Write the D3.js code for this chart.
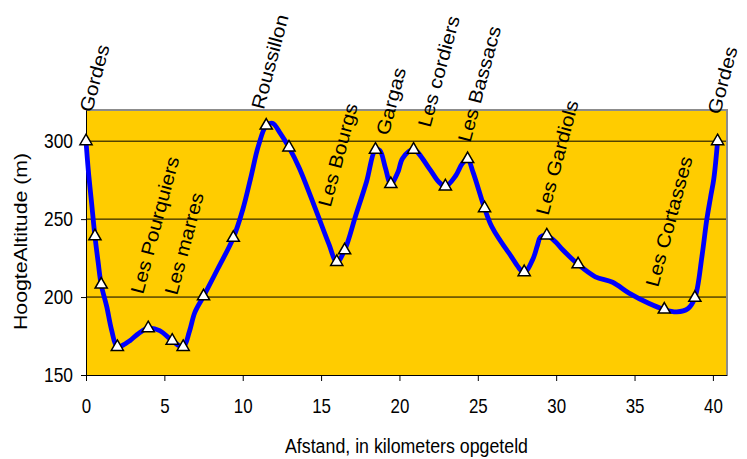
<!DOCTYPE html>
<html lang="nl">
<head>
<meta charset="utf-8">
<title>Hoogteprofiel Gordes - Roussillon</title>
<script src="https://cdnjs.cloudflare.com/ajax/libs/d3/7.8.5/d3.min.js"></script>
<style>
  body { margin: 0; background: #fff; }
  text { font-family: Arial, "Liberation Sans", sans-serif; fill: #000; }
</style>
</head>
<body>
<div id="chart"></div>
<script>
// route profile: distance (km) and altitude (m)
const profileKm = [0, 0.15, 0.36, 0.57, 0.78, 0.97, 1.32, 1.63, 2.0, 2.5, 2.8, 3.4, 3.97, 4.7, 5.5, 6.2, 6.6, 6.94, 7.5, 8.4,
  9.4, 10.0, 10.5, 11.0, 11.5, 11.9, 12.4, 12.95, 13.6, 14.7, 15.5, 16.0, 16.5, 17.2, 17.9, 18.47, 18.75, 19.1, 19.45, 19.9,
  20.2, 20.9, 21.9, 22.5, 22.93, 23.6, 24.0, 24.35, 24.7, 25.43, 25.9, 27.0, 27.96, 28.5, 28.8, 29.0, 29.4, 30.0, 30.4, 31.4,
  32.5, 33.6, 34.65, 35.9, 36.9, 37.7, 38.4, 38.85, 39.3, 39.6, 39.85, 40.06, 40.3];
const profileAlt = [300, 281, 260, 239, 222, 208, 194, 179, 168, 170, 172, 177, 180, 178.5, 172, 168, 178, 190, 200.5, 218,
  238, 256, 276, 297, 310, 311.5, 305, 296, 283, 255, 234, 222.5, 230, 252, 274, 294.5, 294, 283, 272.5, 280,
  289, 294.5, 282.5, 274, 271, 278, 285.5, 288.5, 280, 257, 245, 228, 216, 224, 233, 238.5, 239.5, 235, 230.5, 221,
  213, 209.5, 202.5, 196, 192, 190.5, 192.5, 199.5, 226, 249, 264, 276, 300];

// measured points (triangles)
const markerKm = [0, 0.57, 0.97, 2.0, 3.97, 5.5, 6.2, 7.5, 9.4, 11.5, 12.95, 16.0, 16.5, 18.47, 19.45, 20.9, 22.93, 24.35,
  25.43, 27.96, 29.4, 31.4, 36.9, 38.85, 40.3];
const markerAlt = [300, 239, 208, 168, 180, 172, 168, 200.5, 238, 310, 296, 222.5, 230, 294.5, 272.5, 294.5, 271, 288.5,
  257, 216, 239.5, 221, 192, 199.5, 300];

// place names and where their text starts
const placeNames = ["Gordes", "Les Pourquiers", "Les marres", "Roussillon", "Les Bourgs", "Gargas", "Les cordiers",
  "Les Bassacs", "Les Gardiols", "Les Cortasses", "Gordes"];
const placeKm = [0.38, 3.63, 5.8, 11.34, 15.6, 19.3, 21.97, 24.52, 29.49, 36.5, 40.45];
const placeAlt = [318, 201.3, 200.6, 319.9, 257.1, 303.2, 308.3, 298.7, 251.9, 205.8, 316.7];

const xTicks = [0, 5, 10, 15, 20, 25, 30, 35, 40];
const yTicks = [150, 200, 250, 300];
const gridValues = [200, 250, 300];

const width = 747;
const height = 459;
const plotLeft = 86, plotRight = 727, plotTop = 110, plotBottom = 375;

const svg = d3.select("#chart").append("svg")
  .attr("width", width)
  .attr("height", height);

const x = d3.scaleLinear().domain([0, 40.9]).range([plotLeft, plotRight]);
const y = d3.scaleLinear().domain([150, 320]).range([plotBottom, plotTop]);

// plot area
svg.append("rect")
  .attr("x", plotLeft).attr("y", plotTop)
  .attr("width", plotRight - plotLeft).attr("height", plotBottom - plotTop)
  .attr("fill", "#ffcc00");

// grid
svg.append("g").selectAll("line")
  .data(gridValues)
  .join("line")
  .attr("x1", plotLeft).attr("x2", plotRight)
  .attr("y1", d => y(d)).attr("y2", d => y(d))
  .attr("stroke", "#000").attr("stroke-width", 1);

// grey frame on top and right
svg.append("path")
  .attr("d", `M${plotLeft},${plotTop}H${plotRight}V${plotBottom}`)
  .attr("fill", "none")
  .attr("stroke", "#8c8c8c")
  .attr("stroke-width", 2);

// axes
const xAxis = d3.axisBottom(x).tickValues(xTicks).tickSize(6).tickSizeOuter(0).tickPadding(17);
const yAxis = d3.axisLeft(y).tickValues(yTicks).tickSize(5).tickSizeOuter(0).tickPadding(8);

const gx = svg.append("g").attr("transform", `translate(0,${plotBottom})`).call(xAxis);
gx.selectAll("text")
  .attr("font-size", 21)
  .attr("font-family", "Arial, 'Liberation Sans', sans-serif")
  .attr("textLength", d => String(d).length * 9.4)
  .attr("lengthAdjust", "spacingAndGlyphs");

const gy = svg.append("g").attr("transform", `translate(${plotLeft},0)`).call(yAxis);
gy.selectAll("text")
  .attr("font-size", 20)
  .attr("font-family", "Arial, 'Liberation Sans', sans-serif")
  .attr("textLength", 29)
  .attr("lengthAdjust", "spacingAndGlyphs");

svg.selectAll(".domain, .tick line").attr("stroke", "#000");

// profile line
const line = d3.line()
  .x(d => x(d[0]))
  .y(d => y(d[1]))
  .curve(d3.curveCatmullRom.alpha(0.5));

svg.append("path")
  .datum(d3.zip(profileKm, profileAlt))
  .attr("d", line)
  .attr("fill", "none")
  .attr("stroke", "#0000ff")
  .attr("stroke-width", 4.8)
  .attr("stroke-linejoin", "round");

// triangles
svg.append("g").selectAll("path")
  .data(d3.zip(markerKm, markerAlt))
  .join("path")
  .attr("transform", d => `translate(${x(d[0])},${y(d[1])})`)
  .attr("d", d3.symbol(d3.symbolTriangle, 64))
  .attr("fill", "#fff")
  .attr("stroke", "#000")
  .attr("stroke-width", 1.5);

// place labels
const labels = svg.append("g").selectAll("text")
  .data(d3.zip(placeNames, placeKm, placeAlt))
  .join("text")
  .attr("transform", d => `translate(${x(d[1])},${y(d[2])}) rotate(-75)`)
  .attr("font-size", 19)
  .text(d => d[0]);
labels.each(function() {
  const w = this.getComputedTextLength();
  d3.select(this).attr("textLength", w * 21 / 19).attr("lengthAdjust", "spacingAndGlyphs");
});

// axis titles
svg.append("text")
  .attr("x", 406.5).attr("y", 453)
  .attr("text-anchor", "middle")
  .attr("font-size", 19.5)
  .attr("textLength", 243)
  .attr("lengthAdjust", "spacingAndGlyphs")
  .text("Afstand, in kilometers opgeteld");

svg.append("text")
  .attr("transform", "translate(27,241.5) rotate(-90)")
  .attr("text-anchor", "middle")
  .attr("font-size", 18)
  .attr("textLength", 177)
  .attr("lengthAdjust", "spacingAndGlyphs")
  .text("HoogteAltitude (m)");
</script>
</body>
</html>
